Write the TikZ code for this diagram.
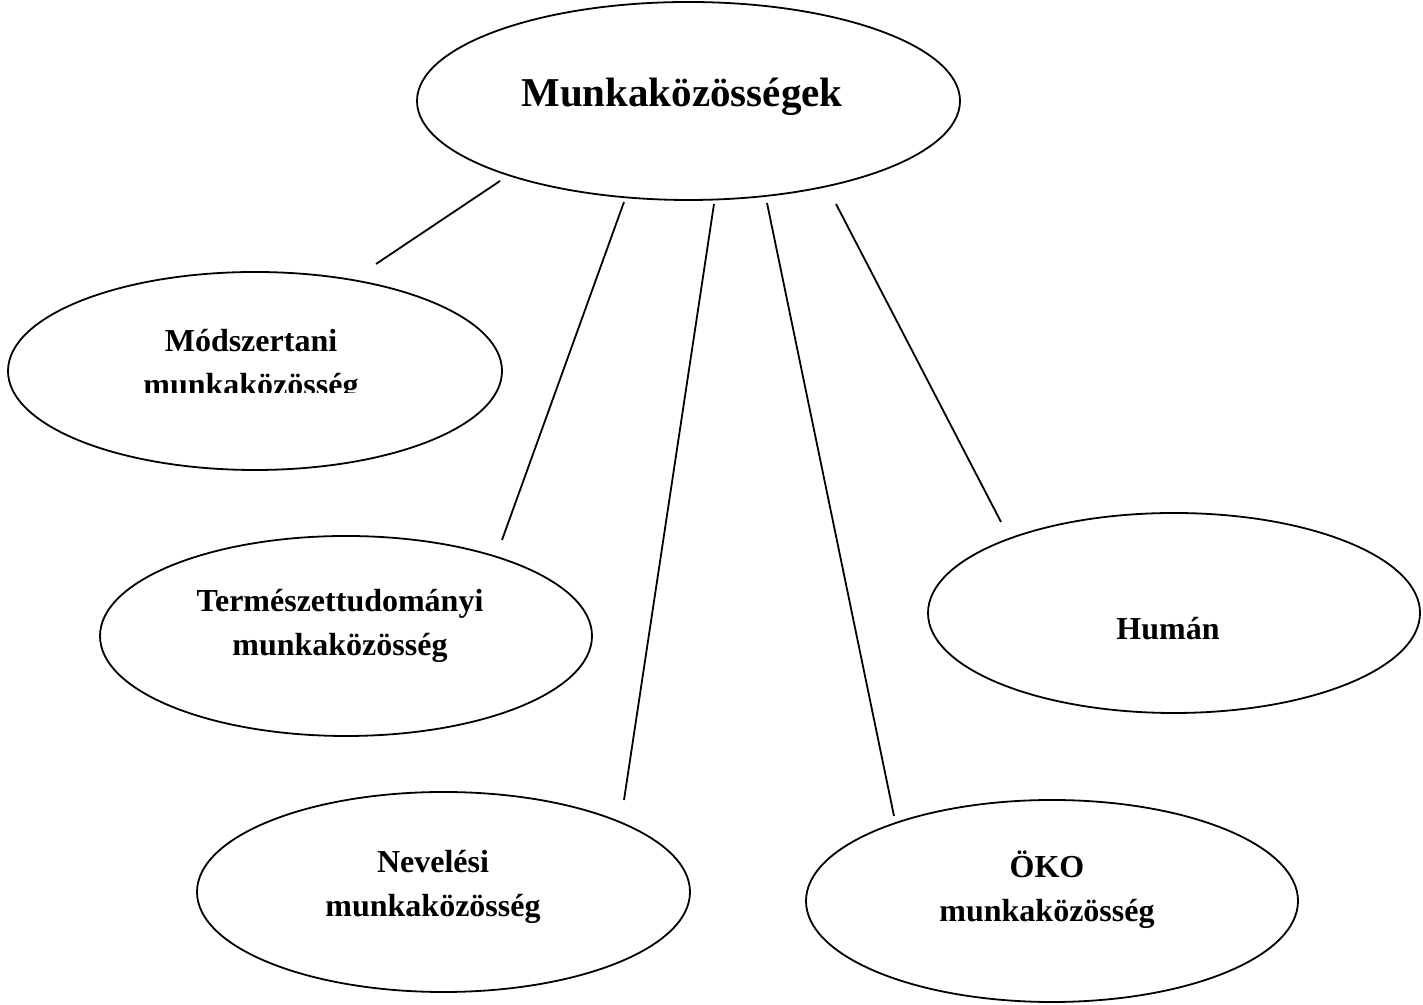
\documentclass[tikz,border=0pt]{standalone}
\usepackage{fontspec}
\setmainfont{Liberation Serif}
\usetikzlibrary{shapes.geometric}
\begin{document}
\begin{tikzpicture}[x=0.5pt,y=0.5pt]
\definecolor{drawColor}{RGB}{0,0,0}
\definecolor{fillColor}{RGB}{255,255,255}
\tikzset{
  kor/.style={ellipse,draw=drawColor,line width=0.9pt,fill=fillColor,inner sep=0pt,
    minimum width=246pt,minimum height=100pt},
  felirat/.style={text=drawColor,anchor=base,align=center,inner sep=0pt,outer sep=0pt,
    font=\fontsize{16}{22}\selectfont\bfseries},
  vonal/.style={draw=drawColor,line width=0.9pt}
}
\path[use as bounding box,fill=fillColor] (0,0) rectangle (1423,1005);

% ellipszisek
\node[kor,minimum width=271.5pt,minimum height=99pt] (mk) at (688.5,904) {};
\node[kor,minimum width=247pt,minimum height=99pt] (mod) at (255,634) {};
\node[kor] (term) at (346,369) {};
\node[kor] (hum) at (1174,392) {};
\node[kor,minimum width=246.5pt] (nev) at (443.5,113) {};
\node[kor,minimum height=101pt] (oko) at (1052,104) {};

% feliratok (base = utolso sor alapvonala)
\node[felirat,font=\fontsize{20.5}{24}\selectfont\bfseries] (mk-t) at (682,898) {Munkaközösségek};
\begin{scope}
\path[clip] (100,612) rectangle (400,700);
\node[felirat] (mod-t) at (251,609) {Módszertani\\munkaközösség};
\end{scope}
\node[felirat] (term-t) at (340,349) {Természettudományi\\munkaközösség};
\node[felirat] (hum-t) at (1168,365) {Humán};
\begin{scope}
\path[clip] (300,82) rectangle (580,160);
\node[felirat] (nev-t) at (433,88) {Nevelési\\munkaközösség};
\end{scope}
\node[felirat] (oko-t) at (1047,83) {ÖKO\\munkaközösség};

% vonalak
\coordinate (mk-1) at (500,824);
\coordinate (mk-2) at (624,803);
\coordinate (mk-3) at (714,801);
\coordinate (mk-4) at (767,802);
\coordinate (mk-5) at (836,801);
\coordinate (mod-v) at (376,741);
\coordinate (term-v) at (502,465);
\coordinate (nev-v) at (624,205);
\coordinate (oko-v) at (894,189);
\coordinate (hum-v) at (1001,483);

\path[vonal] (mk-1) -- (mod-v);
\path[vonal] (mk-2) -- (term-v);
\path[vonal] (mk-3) -- (nev-v);
\path[vonal] (mk-4) -- (oko-v);
\path[vonal] (mk-5) -- (hum-v);
\end{tikzpicture}
\end{document}
